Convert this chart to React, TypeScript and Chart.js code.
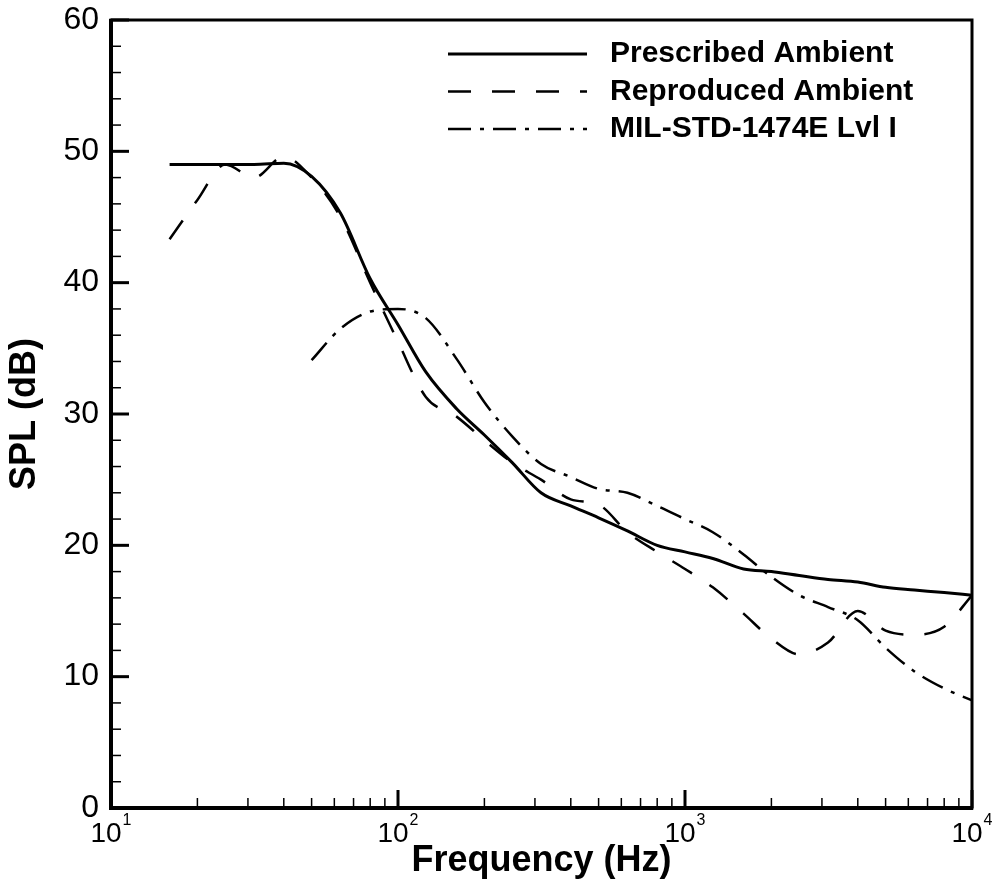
import React, { useEffect, useRef } from "react";
import { Chart, registerables } from "chart.js";

Chart.register(...registerables);

// ---- data ----
const freqs = [16, 20, 25, 31.5, 40, 50, 63, 80, 100, 125, 160, 200, 250, 315, 400, 500, 630, 800, 1000, 1250, 1600, 2000, 2500, 3150, 4000, 5000, 6300, 8000, 10000];
const prescribed = [49, 49, 49, 49, 49.1, 48.1, 45.3, 40.3, 36.8, 33.2, 30.4, 28.4, 26.3, 24.0, 23.0, 22.1, 21.1, 20.0, 19.5, 19.0, 18.2, 18.0, 17.7, 17.4, 17.2, 16.8, 16.6, 16.4, 16.2];
const reproduced = [43.3, 46.3, 49.0, 48.0, 49.6, 48.0, 45.0, 40.0, 35.5, 31.3, 29.8, 28.0, 26.3, 25.0, 23.5, 23.1, 21.0, 19.5, 18.2, 16.8, 14.8, 12.9, 11.7, 12.6, 15.0, 13.5, 13.2, 13.8, 16.2];
const milFreqs = [50, 63, 80, 100, 125, 160, 200, 250, 315, 400, 500, 630, 800, 1000, 1250, 1600, 2000, 2500, 3150, 4000, 5000, 6300, 8000, 10000];
const milStd = [34.1, 36.5, 37.8, 38.0, 37.3, 34.2, 30.9, 28.3, 26.2, 25.2, 24.3, 24.0, 23.0, 22.0, 21.0, 19.3, 17.6, 16.2, 15.3, 14.3, 12.2, 10.4, 9.1, 8.2];
const seriesNames = ["Prescribed Ambient", "Reproduced Ambient", "MIL-STD-1474E Lvl I"];
const xDecades = [10, 100, 1000, 10000];
const yTicks = [0, 10, 20, 30, 40, 50, 60];

const FONT = "'Liberation Sans', Arial, Helvetica, sans-serif";

const overlay = {
  id: "overlay",
  afterDraw(chart: any) {
    const { ctx, chartArea: a, scales } = chart;
    const xs = scales.x;
    const ys = scales.y;
    ctx.save();
    ctx.strokeStyle = "#000";
    ctx.fillStyle = "#000";
    ctx.setLineDash([]);
    // frame
    ctx.lineWidth = 3;
    ctx.strokeRect(a.left, a.top, a.right - a.left, a.bottom - a.top);
    ctx.lineWidth = 4;
    ctx.beginPath();
    ctx.moveTo(a.left, a.top - 1);
    ctx.lineTo(a.left, a.bottom);
    ctx.lineTo(a.right + 1, a.bottom);
    ctx.stroke();
    // y ticks
    for (let v = 0; v <= 60; v += 2) {
      const major = v % 10 === 0;
      const py = ys.getPixelForValue(v);
      ctx.lineWidth = major ? 3 : 1.5;
      ctx.beginPath();
      ctx.moveTo(a.left, py);
      ctx.lineTo(a.left + (major ? 18 : 10), py);
      ctx.stroke();
    }
    // x ticks
    for (let d = 10; d <= 10000; d *= 10) {
      for (let m = 1; m <= 9; m++) {
        const f = d * m;
        if (f > 10000) break;
        const px = xs.getPixelForValue(f);
        const major = m === 1;
        ctx.lineWidth = major ? 3 : 1.5;
        ctx.beginPath();
        ctx.moveTo(px, a.bottom);
        ctx.lineTo(px, a.bottom - (major ? 18 : 10));
        ctx.stroke();
      }
    }
    // x labels with superscript
    ctx.textBaseline = "alphabetic";
    ctx.textAlign = "left";
    xDecades.forEach((f) => {
      const px = xs.getPixelForValue(f);
      const exp = String(Math.round(Math.log10(f)));
      ctx.font = `28px ${FONT}`;
      const bw = ctx.measureText("10").width;
      ctx.font = `16px ${FONT}`;
      const sw = ctx.measureText(exp).width;
      const start = px - (bw + 1 + sw) / 2;
      ctx.font = `28px ${FONT}`;
      ctx.fillText("10", start, a.bottom + 34);
      ctx.font = `16px ${FONT}`;
      ctx.fillText(exp, start + bw + 1, a.bottom + 17);
    });
    // legend
    const dsets = chart.data.datasets;
    ctx.textBaseline = "middle";
    ctx.font = `bold 30px ${FONT}`;
    dsets.forEach((ds: any, i: number) => {
      const y = 54 + i * 37.5;
      ctx.lineWidth = ds.borderWidth;
      ctx.setLineDash(ds.borderDash || []);
      ctx.beginPath();
      ctx.moveTo(448, y);
      ctx.lineTo(587, y);
      ctx.stroke();
      ctx.setLineDash([]);
      ctx.fillText(ds.label, 610, y);
    });
    ctx.restore();
  },
};

export default function App() {
  const ref = useRef<HTMLCanvasElement>(null);
  useEffect(() => {
    document.body.style.margin = "0";
    const canvas = ref.current!;
    const chart = new Chart(canvas, {
      type: "line",
      data: {
        datasets: [
          {
            label: seriesNames[0],
            data: freqs.map((f, i) => ({ x: f, y: prescribed[i] })),
            borderColor: "#000",
            borderWidth: 3,
            pointRadius: 0,
            cubicInterpolationMode: "monotone",
          },
          {
            label: seriesNames[1],
            data: freqs.map((f, i) => ({ x: f, y: reproduced[i] })),
            borderColor: "#000",
            borderWidth: 2.5,
            borderDash: [23, 21],
            pointRadius: 0,
            cubicInterpolationMode: "monotone",
          },
          {
            label: seriesNames[2],
            data: milFreqs.map((f, i) => ({ x: f, y: milStd[i] })),
            borderColor: "#000",
            borderWidth: 2.5,
            borderDash: [23, 9, 4, 9],
            pointRadius: 0,
            cubicInterpolationMode: "monotone",
          },
        ] as any,
      },
      options: {
        animation: false,
        responsive: false,
        devicePixelRatio: 1,
        layout: { padding: { top: 20, right: 24, left: 0, bottom: 0 } },
        plugins: { legend: { display: false }, tooltip: { enabled: false } },
        scales: {
          x: {
            type: "logarithmic",
            min: 10,
            max: 10000,
            grid: { display: false },
            border: { display: false },
            ticks: { display: false },
            title: {
              display: true,
              text: "Frequency (Hz)",
              color: "#000",
              font: { family: FONT, size: 36, weight: "bold" },
              padding: { top: 0, bottom: 5 },
            },
            afterFit: (s: any) => {
              s.height = 80;
              s.paddingLeft = 0;
              s.paddingRight = 0;
            },
          },
          y: {
            min: 0,
            max: 60,
            grid: { display: false },
            border: { display: false },
            afterBuildTicks: (s: any) => {
              s.ticks = yTicks.map((v) => ({ value: v }));
            },
            ticks: {
              color: "#000",
              padding: 4,
              font: { family: FONT, size: 32 },
            },
            title: {
              display: true,
              text: "SPL (dB)",
              color: "#000",
              font: { family: FONT, size: 36, weight: "bold" },
              padding: { top: 3, bottom: 0 },
            },
            afterFit: (s: any) => {
              s.width = 111;
              s.paddingTop = 0;
              s.paddingBottom = 0;
            },
          },
        },
      } as any,
      plugins: [overlay],
    });
    return () => chart.destroy();
  }, []);
  return <canvas ref={ref} width={996} height={888} style={{ display: "block" }} />;
}
